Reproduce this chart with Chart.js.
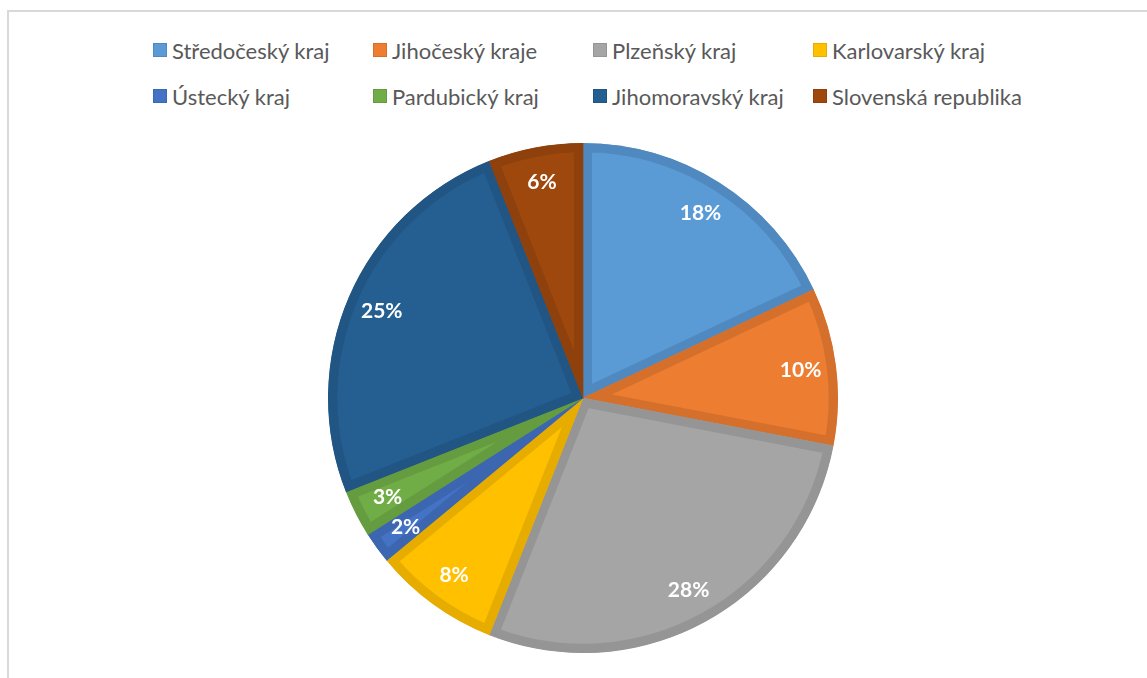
<!DOCTYPE html>
<html lang="cs">
<head>
<meta charset="utf-8">
<title>Podíl podle krajů</title>
<script src="https://cdn.jsdelivr.net/npm/chart.js@4/dist/chart.umd.min.js"></script>
<style>
  body { margin: 0; background: #fff; font-family: Lato, "Open Sans", sans-serif; }
  #frame {
    position: absolute; left: 7px; top: 10px; width: 1200px; height: 720px;
    border: 2px solid #d9d9d9; box-sizing: border-box;
  }
  #legend { position: absolute; left: 0; top: 0; }
  .item { position: absolute; display: flex; align-items: center; height: 24px;
          font-size: 22px; color: #595959; white-space: nowrap; }
  .item span.box { width: 14px; height: 14px; margin-right: 5px; box-sizing: border-box; border: 1px solid; }
  #pie { position: absolute; left: 328px; top: 143px; }
</style>
</head>
<body>
<div id="frame"></div>
<div id="legend"></div>
<canvas id="pie" width="510" height="510"></canvas>
<script>
const regions = [
  "Středočeský kraj", "Jihočeský kraje", "Plzeňský kraj", "Karlovarský kraj",
  "Ústecký kraj", "Pardubický kraj", "Jihomoravský kraj", "Slovenská republika"
];
const shares = [18, 10, 28, 8, 2, 3, 25, 6];

const fills = ["#5b9bd5", "#ed7d31", "#a5a5a5", "#ffc000", "#4472c4", "#70ad47", "#255e91", "#9e480e"];
const edges = ["#4f89bf", "#d5702c", "#959595", "#e6ad00", "#3d66b0", "#659c40", "#215583", "#8e410d"];

// legend: 4 columns x 2 rows
const legend = document.getElementById("legend");
regions.forEach((name, i) => {
  const col = i % 4, row = Math.floor(i / 4);
  const el = document.createElement("div");
  el.className = "item";
  el.style.left = (153 + col * 220) + "px";
  el.style.top = (38 + row * 46) + "px";
  el.innerHTML = '<span class="box"></span>' + name;
  el.firstChild.style.background = fills[i];
  el.firstChild.style.borderColor = edges[i];
  legend.appendChild(el);
});

// white bold percentages inside each slice
const sliceLabels = {
  id: "sliceLabels",
  afterDatasetsDraw(chart) {
    const ctx = chart.ctx;
    const meta = chart.getDatasetMeta(0);
    ctx.save();
    ctx.fillStyle = "#ffffff";
    ctx.font = "bold 21px Lato, sans-serif";
    ctx.textAlign = "center";
    ctx.textBaseline = "middle";
    meta.data.forEach((arc, i) => {
      const p = arc.getProps(["x", "y", "startAngle", "endAngle", "outerRadius"], true);
      const mid = (p.startAngle + p.endAngle) / 2;
      const r = p.outerRadius * 0.86;
      ctx.fillText(shares[i] + "%", p.x + Math.cos(mid) * r, p.y + Math.sin(mid) * r);
    });
    ctx.restore();
  }
};

new Chart(document.getElementById("pie"), {
  type: "pie",
  data: {
    labels: regions,
    datasets: [{
      data: shares,
      backgroundColor: fills,
      borderColor: edges,
      borderWidth: 9,
      borderAlign: "inner",
      hoverOffset: 0
    }]
  },
  options: {
    responsive: false,
    animation: false,
    layout: { padding: 0 },
    plugins: {
      legend: { display: false },
      tooltip: { enabled: false }
    }
  },
  plugins: [sliceLabels]
});
</script>
</body>
</html>
